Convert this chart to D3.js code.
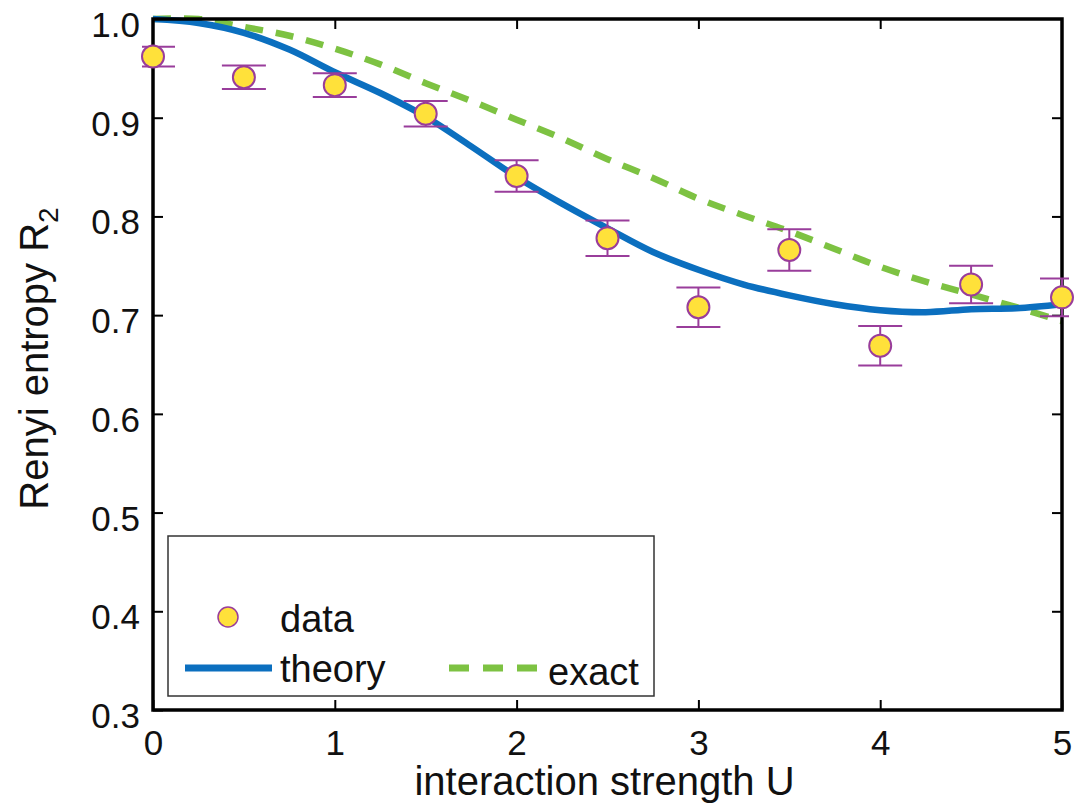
<!DOCTYPE html>
<html>
<head>
<meta charset="utf-8">
<script src="https://cdn.jsdelivr.net/npm/d3@7"></script>
<style>
    body { margin: 0; background: #fff; }
    #chart-area text { font-family: "Liberation Sans", Arial, Helvetica, sans-serif; fill: #111; }
    .axis text { font-size: 35px; }
    .axis line { stroke: #000; stroke-width: 2px; }
    .axis path { display: none; }
    .axis-label { font-size: 40px; }
    .legend-text { font-size: 38px; }
</style>
</head>
<body>
<div id="chart-area"></div>
<script>

// measured points (U, Renyi entropy, error)
var uData = [0, 0.5, 1, 1.5, 2, 2.5, 3, 3.5, 4, 4.5, 5];
var r2Data = [0.962, 0.941, 0.933, 0.904, 0.841, 0.778, 0.708, 0.766, 0.669, 0.731, 0.718];
var r2Err = [0.010, 0.012, 0.012, 0.013, 0.016, 0.018, 0.020, 0.021, 0.020, 0.019, 0.019];

// curves
var uCurve = [0, 0.25, 0.5, 0.75, 1, 1.25, 1.5, 1.75, 2, 2.25, 2.5, 2.75, 3, 3.25, 3.5, 3.75, 4, 4.25, 4.5, 4.75, 5];
var theory = [1.000, 0.996, 0.986, 0.969, 0.946, 0.925, 0.901, 0.871, 0.840, 0.813, 0.788, 0.764, 0.746, 0.731, 0.720, 0.711, 0.705, 0.703, 0.706, 0.707, 0.711];
var exact = [1.000, 1.000, 0.992, 0.983, 0.970, 0.954, 0.935, 0.917, 0.898, 0.879, 0.858, 0.839, 0.818, 0.801, 0.785, 0.767, 0.749, 0.734, 0.721, 0.708, 0.694];

var xTicks = [0, 1, 2, 3, 4, 5];
var yTicks = [0.3, 0.4, 0.5, 0.6, 0.7, 0.8, 0.9, 1.0];

var legendLabels = ["data", "theory", "exact"];


RenyiVis = function(_parentElement){
    this.parentElement = _parentElement;
    this.initVis();
}

RenyiVis.prototype.initVis = function(){
    var vis = this;

    vis.margin = {top: 19, right: 17, bottom: 95, left: 153};
    vis.width = 1079 - vis.margin.left - vis.margin.right;
    vis.height = 805 - vis.margin.top - vis.margin.bottom;

    vis.svg = d3.select("#" + vis.parentElement).append("svg")
        .attr("width", 1079)
        .attr("height", 805)
        .append("g")
        .attr("transform", "translate(" + vis.margin.left + "," + vis.margin.top + ")");

    vis.x = d3.scaleLinear().range([0, vis.width]).domain([0, 5]);
    vis.y = d3.scaleLinear().range([vis.height, 0]).domain([0.3, 1.0]);

    // inward ticks on all four sides, labels only bottom & left
    vis.xAxis = d3.axisBottom(vis.x).tickValues(xTicks).tickSize(-10).tickSizeOuter(0)
        .tickPadding(20).tickFormat(d3.format("d"));
    vis.yAxis = d3.axisLeft(vis.y).tickValues(yTicks).tickSize(-10).tickSizeOuter(0)
        .tickPadding(13).tickFormat(d3.format(".1f"));

    vis.svg.append("g")
        .attr("class", "x-axis axis")
        .attr("transform", "translate(0," + vis.height + ")")
        .call(vis.xAxis)
        .selectAll("text").attr("dy", "0.71em");

    vis.svg.append("g")
        .attr("class", "y-axis axis")
        .call(vis.yAxis)
        .selectAll("text").attr("dy", "0.5em");

    vis.svg.append("g")
        .attr("class", "axis")
        .call(d3.axisTop(vis.x).tickValues(xTicks.slice(1, -1)).tickSize(-10).tickSizeOuter(0).tickFormat(""));

    vis.svg.append("g")
        .attr("class", "axis")
        .attr("transform", "translate(" + vis.width + ",0)")
        .call(d3.axisRight(vis.y).tickValues(yTicks.slice(1, -1)).tickSize(-10).tickSizeOuter(0).tickFormat(""));

    vis.curveLine = d3.line()
        .x(function(d, i) { return vis.x(uCurve[i]); })
        .y(function(d) { return vis.y(d); })
        .curve(d3.curveCatmullRom.alpha(0.5));

    vis.svg.append("defs").append("clipPath")
        .attr("id", "bar-clip")
        .append("rect")
        .attr("x", -11).attr("y", -30)
        .attr("width", vis.width + 18).attr("height", vis.height + 60);

    // axis labels
    vis.svg.append("text")
        .attr("class", "axis-label")
        .attr("x", vis.width / 2 - 3)
        .attr("y", vis.height + 85)
        .style("text-anchor", "middle")
        .text("interaction strength U");

    var ylab = vis.svg.append("text")
        .attr("class", "axis-label")
        .attr("transform", "translate(" + (48 - vis.margin.left) + "," + (vis.height / 2 - 6) + ") rotate(-90)")
        .style("text-anchor", "middle");
    ylab.append("tspan").text("Renyi entropy R");
    ylab.append("tspan").attr("dy", 10).style("font-size", "28px").text("2");

    vis.updateVis();
}

RenyiVis.prototype.updateVis = function(){
    var vis = this;

    vis.svg.append("path")
        .datum(exact)
        .attr("fill", "none")
        .attr("stroke", "#7dc242")
        .attr("stroke-width", 6.5)
        .attr("stroke-dasharray", "18,13")
        .attr("d", vis.curveLine);

    vis.svg.append("path")
        .datum(theory)
        .attr("fill", "none")
        .attr("stroke", "#0b6fbf")
        .attr("stroke-width", 6.5)
        .attr("d", vis.curveLine);

    // frame
    vis.svg.append("rect")
        .attr("width", vis.width)
        .attr("height", vis.height)
        .attr("fill", "none")
        .attr("stroke", "#000")
        .attr("stroke-width", 3.5);

    // error bars
    var bars = vis.svg.append("g").attr("clip-path", "url(#bar-clip)")
        .selectAll("g.err")
        .data(r2Data)
        .enter().append("g")
        .attr("class", "err")
        .attr("stroke", "#993d9b")
        .attr("stroke-width", 2);

    bars.append("line")
        .attr("x1", function(d, i) { return vis.x(uData[i]); })
        .attr("x2", function(d, i) { return vis.x(uData[i]); })
        .attr("y1", function(d, i) { return vis.y(d - r2Err[i]); })
        .attr("y2", function(d, i) { return vis.y(d + r2Err[i]); });

    [-1, 1].forEach(function(s){
        bars.append("line")
            .attr("x1", function(d, i) { return vis.x(uData[i]) - 22; })
            .attr("x2", function(d, i) { return vis.x(uData[i]) + 22; })
            .attr("y1", function(d, i) { return vis.y(d + s * r2Err[i]); })
            .attr("y2", function(d, i) { return vis.y(d + s * r2Err[i]); });
    });

    vis.svg.selectAll("circle.pt")
        .data(r2Data)
        .enter().append("circle")
        .attr("class", "pt")
        .attr("cx", function(d, i) { return vis.x(uData[i]); })
        .attr("cy", function(d) { return vis.y(d); })
        .attr("r", 11)
        .attr("fill", "#ffe13a")
        .attr("stroke", "#993d9b")
        .attr("stroke-width", 2);

    // legend
    var lg = vis.svg.append("g")
        .attr("transform", "translate(" + (168 - vis.margin.left) + "," + (536 - vis.margin.top) + ")");

    lg.append("rect")
        .attr("width", 486).attr("height", 160)
        .attr("fill", "#fff")
        .attr("stroke", "#333")
        .attr("stroke-width", 1.5);

    lg.append("circle")
        .attr("cx", 60).attr("cy", 81).attr("r", 10)
        .attr("fill", "#ffe13a").attr("stroke", "#993d9b").attr("stroke-width", 1.5);

    lg.append("line")
        .attr("x1", 17).attr("x2", 104).attr("y1", 132).attr("y2", 132)
        .attr("stroke", "#0b6fbf").attr("stroke-width", 7);

    lg.append("line")
        .attr("x1", 281).attr("x2", 369).attr("y1", 132).attr("y2", 132)
        .attr("stroke", "#7dc242").attr("stroke-width", 7)
        .attr("stroke-dasharray", "20,14");

    var textPos = [[112, 96], [112, 146], [380, 149]];
    lg.selectAll("text")
        .data(legendLabels)
        .enter().append("text")
        .attr("class", "legend-text")
        .attr("x", function(d, i) { return textPos[i][0]; })
        .attr("y", function(d, i) { return textPos[i][1]; })
        .text(function(d) { return d; });
}

var renyiVis = new RenyiVis("chart-area");

</script>
</body>
</html>
